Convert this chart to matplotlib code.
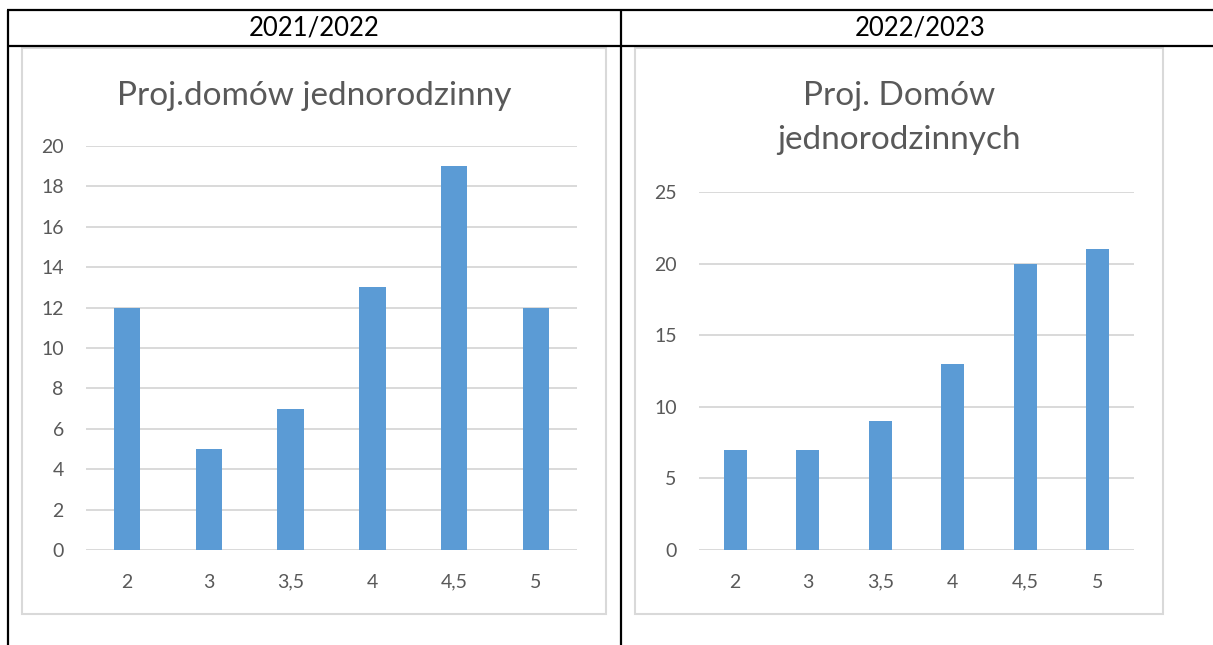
import matplotlib
matplotlib.use("Agg")
import matplotlib.pyplot as plt
from matplotlib.lines import Line2D
from matplotlib.patches import Rectangle

plt.rcParams["font.family"] = ["Lato", "DejaVu Sans"]

# -----------------------
# DATA
# -----------------------

grades = ["2", "3", "3,5", "4", "4,5", "5"]
counts_2122 = [12, 5, 7, 13, 19, 12]
counts_2223 = [7, 7, 9, 13, 20, 21]

year_labels = ["2021/2022", "2022/2023"]
title_2122 = "Proj.domów jednorodzinny"
title_2223 = "Proj. Domów\njednorodzinnych"

# -----------------------
# LAYOUT (pixels of the 1213x645 canvas)
# -----------------------

W, H = 1213, 645
BAR_COLOR = "#5b9bd5"
GRID_COLOR = "#d9d9d9"
TEXT_COLOR = "#595959"


def fx(x):
    return x / W


def fy(y):
    return 1 - y / H


def hline(fig, x0, x1, y, color="black", lw=1.6):
    fig.add_artist(Line2D([fx(x0), fx(x1)], [fy(y), fy(y)], color=color, lw=lw,
                          transform=fig.transFigure, solid_capstyle="butt"))


def vline(fig, x, y0, y1, color="black", lw=1.6):
    fig.add_artist(Line2D([fx(x), fx(x)], [fy(y0), fy(y1)], color=color, lw=lw,
                          transform=fig.transFigure, solid_capstyle="butt"))


def chart_box(fig, x0, y0, x1, y1):
    fig.add_artist(Rectangle((fx(x0), fy(y1)), fx(x1) - fx(x0), fy(y0) - fy(y1),
                             transform=fig.transFigure, facecolor="none",
                             edgecolor=GRID_COLOR, lw=1.5))


def bar_panel(fig, rect_px, values, ymax, ystep):
    left, top, right, bottom = rect_px
    ax = fig.add_axes([fx(left), fy(bottom), fx(right) - fx(left), fy(top) - fy(bottom)])
    x = list(range(len(values)))
    ax.bar(x, values, width=0.32, color=BAR_COLOR, zorder=3)
    ax.set_xlim(-0.5, len(values) - 0.5)
    ax.set_ylim(0, ymax)
    ax.set_yticks(list(range(0, ymax + 1, ystep)))
    ax.set_xticks(x)
    ax.set_xticklabels(grades)
    ax.yaxis.grid(True, color=GRID_COLOR, lw=1.4)
    ax.set_axisbelow(True)
    for side in ["top", "right", "left", "bottom"]:
        ax.spines[side].set_visible(False)
    ax.tick_params(axis="both", length=0, labelsize=14, labelcolor=TEXT_COLOR)
    ax.tick_params(axis="x", pad=17)
    ax.tick_params(axis="y", pad=16)
    ax.patch.set_alpha(0)
    return ax


fig = plt.figure(figsize=(W / 100, H / 100), dpi=100)

# table frame
hline(fig, 7, W, 10)
hline(fig, 7, W, 46)
vline(fig, 7.5, 10, H)
vline(fig, 621, 10, H)
fig.text(fx(314), fy(28), year_labels[0], ha="center", va="center", fontsize=18.5, color="black")
fig.text(fx(920), fy(28), year_labels[1], ha="center", va="center", fontsize=18.5, color="black")

# chart 1
chart_box(fig, 22, 48, 606, 614)
fig.text(fx(314), fy(96), title_2122, ha="center", va="center", fontsize=24, color=TEXT_COLOR)
bar_panel(fig, (86, 146, 577, 550), counts_2122, 20, 2)

# chart 2
chart_box(fig, 635, 48, 1163, 614)
fig.text(fx(899), fy(118), title_2223, ha="center", va="center", fontsize=24,
         color=TEXT_COLOR, linespacing=1.55)
bar_panel(fig, (699, 192, 1134, 550), counts_2223, 25, 5)

fig.savefig("out.png", dpi=100)
plt.close(fig)
